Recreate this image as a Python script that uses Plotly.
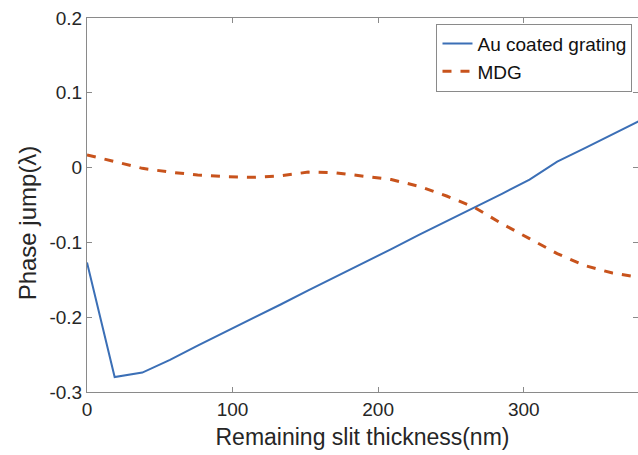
import plotly.graph_objects as go

x_nm = [0, 19, 38, 57, 76, 95, 114, 133, 152, 171, 190, 209, 228, 247, 266, 285, 304, 323, 342, 361, 380]
au_coated = [-0.127, -0.280, -0.274, -0.257, -0.238, -0.220, -0.201, -0.183, -0.164, -0.146, -0.127,
             -0.109, -0.090, -0.072, -0.053, -0.035, -0.016, 0.008, 0.026, 0.044, 0.063]
mdg = [0.017, 0.008, -0.001, -0.006, -0.010, -0.012, -0.013, -0.011, -0.006, -0.007, -0.011,
       -0.016, -0.025, -0.038, -0.053, -0.075, -0.095, -0.115, -0.131, -0.141, -0.147]

x_ticks = [0, 100, 200, 300]
y_ticks = [-0.3, -0.2, -0.1, 0, 0.1, 0.2]
y_tick_text = ["-0.3", "-0.2", "-0.1", "0", "0.1", "0.2"]

FONT = "Liberation Sans, Arial"
fig = go.Figure()
fig.add_trace(go.Scatter(x=x_nm, y=au_coated, mode="lines", name="Au coated grating",
                         line=dict(color="#3B6FB6", width=2)))
fig.add_trace(go.Scatter(x=x_nm, y=mdg, mode="lines", name="MDG",
                         line=dict(color="#C8531C", width=3, dash="dash")))

axis_common = dict(showline=True, linecolor="#8a8a8a", linewidth=1, mirror="ticks",
                   ticks="inside", ticklen=5, tickcolor="#8a8a8a", showgrid=False, zeroline=False,
                   tickfont=dict(family=FONT, size=19, color="#262626"))
fig.update_layout(
    width=638, height=455,
    margin=dict(l=87, r=0, t=18, b=63),
    paper_bgcolor="white", plot_bgcolor="white",
    xaxis=dict(range=[0, 378.5], tickvals=x_ticks,
               title=dict(text="Remaining slit thickness(nm)", standoff=10,
                          font=dict(family=FONT, size=23, color="#262626")),
               **axis_common),
    yaxis=dict(range=[-0.3, 0.2], tickvals=y_ticks, ticktext=y_tick_text,
               title=dict(text="Phase jump(λ)<span style='color:rgba(255,255,255,0)'>xxx</span>",
                          standoff=6,
                          font=dict(family=FONT, size=24, color="#262626")),
               **axis_common),
    legend=dict(x=0.99, y=0.985, xanchor="right", yanchor="top",
                bordercolor="#8a8a8a", borderwidth=1, bgcolor="white",
                font=dict(family=FONT, size=19, color="#111111"),
                tracegroupgap=0, itemwidth=30),
    showlegend=True,
)
fig.write_html("out.html")
